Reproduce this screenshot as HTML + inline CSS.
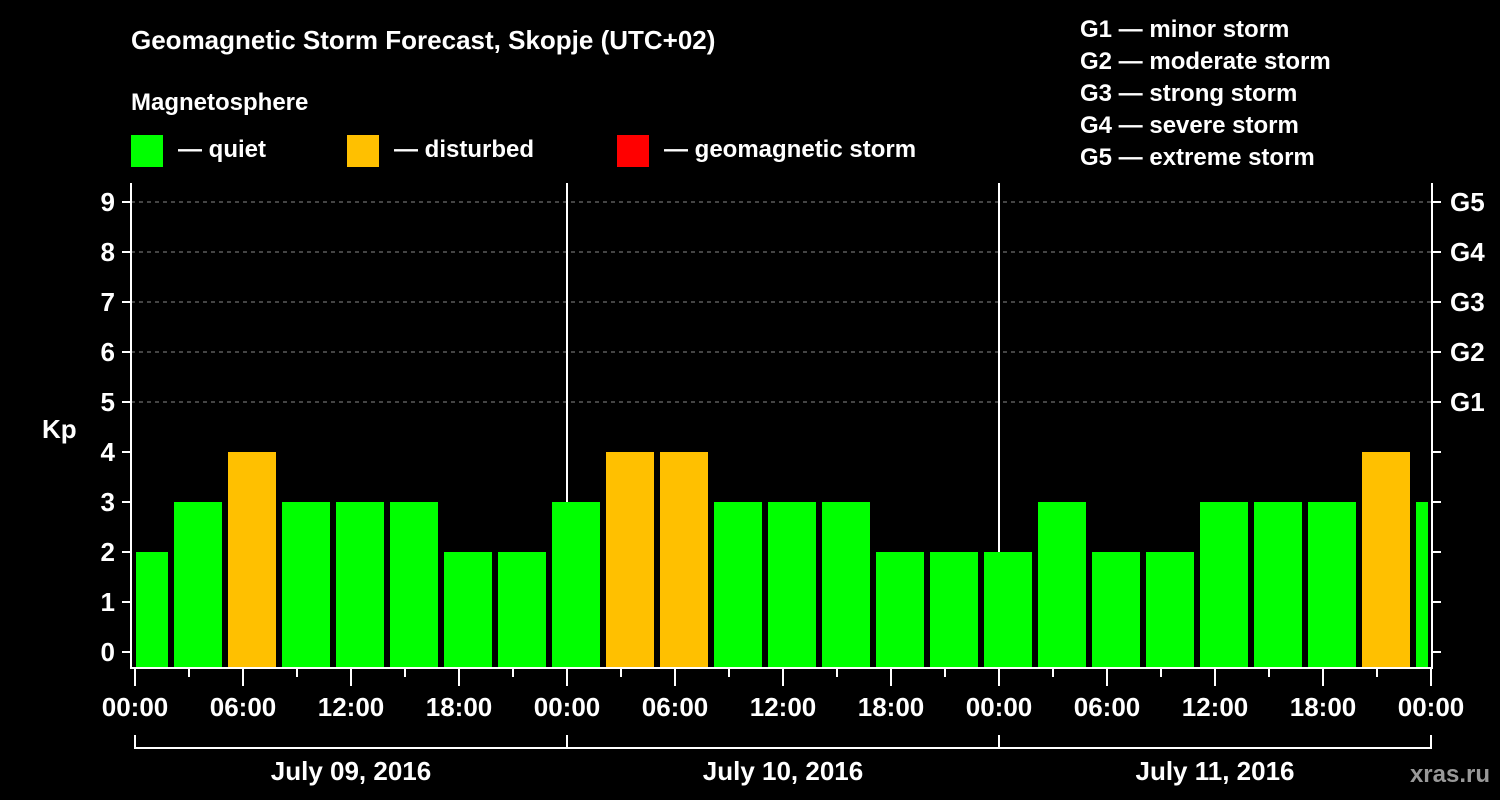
<!DOCTYPE html>
<html><head><meta charset="utf-8"><style>
body{margin:0;background:#000;width:1500px;height:800px;overflow:hidden}
svg{display:block;font-family:"Liberation Sans",Arial,sans-serif;font-weight:bold;fill:#fff}
</style></head><body>
<svg id="c" width="1500" height="800">
<text x="131" y="49" font-size="26">Geomagnetic Storm Forecast, Skopje (UTC+02)</text>
<text x="131" y="110" font-size="24">Magnetosphere</text>
<g><rect x="131" y="135" width="32" height="32" fill="#00ff00"/><text x="178" y="157" font-size="24">— quiet</text></g>
<g><rect x="347" y="135" width="32" height="32" fill="#ffc000"/><text x="394" y="157" font-size="24">— disturbed</text></g>
<g><rect x="617" y="135" width="32" height="32" fill="#ff0000"/><text x="664" y="157" font-size="24">— geomagnetic storm</text></g>
<g font-size="24">
<text x="1080" y="37">G1 — minor storm</text><text x="1080" y="69">G2 — moderate storm</text><text x="1080" y="101">G3 — strong storm</text><text x="1080" y="133">G4 — severe storm</text><text x="1080" y="165">G5 — extreme storm</text></g>
<text x="42" y="438" font-size="26">Kp</text>
<text x="1490" y="782" font-size="24" fill="#999" text-anchor="end">xras.ru</text>
<defs><clipPath id="cp"><rect x="136" y="150" width="1292" height="518"/></clipPath></defs>
<g id="grid"></g><g id="bars" clip-path="url(#cp)"></g><g id="axes"></g>
</svg>
<script>
const kpValues=[2,3,4,3,3,3,2,2, 3,4,4,3,3,3,2,2, 2,3,2,2,3,3,3,4, 3];
const binStartHour=-1;
const dayLabels=["July 09, 2016","July 10, 2016","July 11, 2016"];
const yTicks=[0,1,2,3,4,5,6,7,8,9];
const gLabels=["G1","G2","G3","G4","G5"];
const xTickLabels=["00:00","06:00","12:00","18:00"];
const NS="http://www.w3.org/2000/svg";
const X0=135,PXH=18,Y0=652,PXK=50;
const x=h=>X0+h*PXH, y=k=>Y0-k*PXK;
function mk(p,t,a){const e=document.createElementNS(NS,t);for(const k in a)e.setAttribute(k,a[k]);p.appendChild(e);return e;}
const grid=document.getElementById('grid'),bars=document.getElementById('bars'),ax=document.getElementById('axes');
for(let k=5;k<=9;k++){const l=mk(grid,'line',{x1:131,x2:1432,y1:y(k),y2:y(k),stroke:'#888','stroke-dasharray':'4 4','stroke-width':1});

}
for(let d=1;d<3;d++){const l=mk(grid,'line',{x1:x(24*d),x2:x(24*d),y1:183,y2:668,stroke:'#fff','stroke-width':2});

}
kpValues.forEach((v,i)=>{const h=binStartHour+i*3;
const r=mk(bars,'rect',{x:x(h)+3,width:3*PXH-6,y:y(v),height:668-y(v),fill:v>=5?'#ff0000':v>=4?'#ffc000':'#00ff00'});

});
mk(ax,'path',{d:'M131 183V668H1432V183',fill:'none',stroke:'#fff','stroke-width':2});
yTicks.forEach(k=>{mk(ax,'line',{x1:122,x2:131,y1:y(k),y2:y(k),stroke:'#fff','stroke-width':2});
mk(ax,'line',{x1:1432,x2:1441,y1:y(k),y2:y(k),stroke:'#fff','stroke-width':2});
const t=mk(ax,'text',{x:115,y:y(k)+9,'font-size':26,'text-anchor':'end'});t.textContent=k;

});
gLabels.forEach((g,i)=>{const t=mk(ax,'text',{x:1450,y:y(5+i)+9,'font-size':26});t.textContent=g;

});
for(let h=0;h<=72;h+=3){const major=h%6==0;
mk(ax,'line',{x1:x(h),x2:x(h),y1:668,y2:major?686:677,stroke:'#fff','stroke-width':2});
if(major&&(h%24!=0||true)){}
if(major){const t=mk(ax,'text',{x:x(h),y:716,'font-size':26,'text-anchor':'middle'});t.textContent=xTickLabels[(h%24)/6];

}}
mk(ax,'path',{d:`M${x(0)} 735V748H${x(72)}V735M${x(24)} 735V748M${x(48)} 735V748`,fill:'none',stroke:'#fff','stroke-width':2});
dayLabels.forEach((d,i)=>{const t=mk(ax,'text',{x:x(24*i+12),y:780,'font-size':26,'text-anchor':'middle'});t.textContent=d;

});
</script>
</body></html>
